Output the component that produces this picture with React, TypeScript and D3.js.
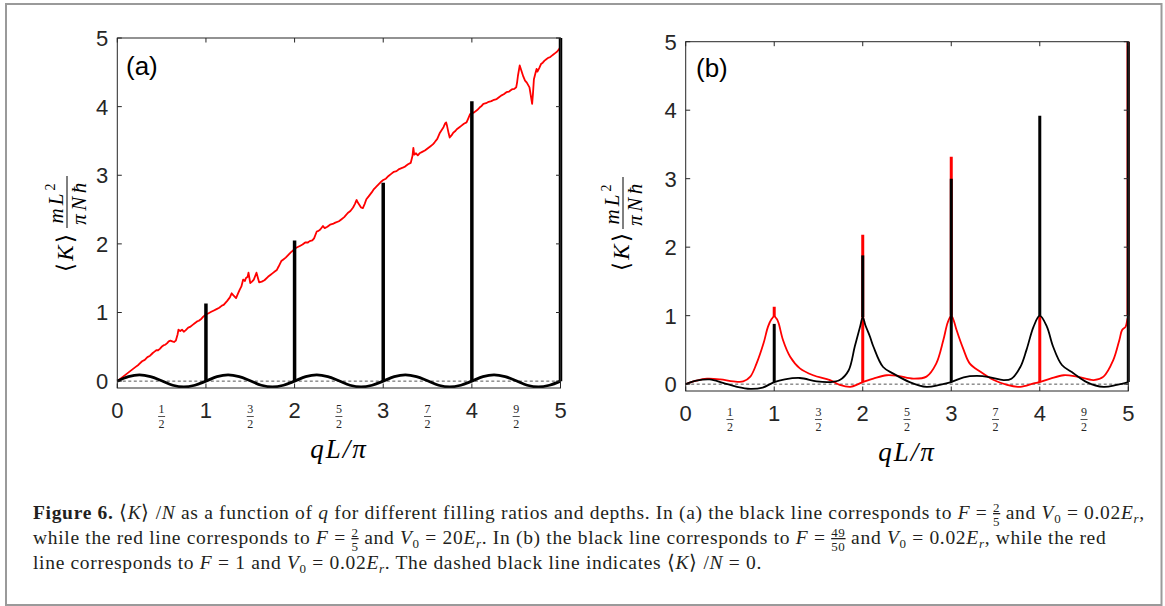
import React from 'react';
import * as d3 from 'd3';

// ---------- data ----------
const xIntTicks = [0, 1, 2, 3, 4, 5];
const yTickValues = [0, 1, 2, 3, 4, 5];
const halfTickValues = [0.5, 1.5, 2.5, 3.5, 4.5];
const halfTickNumerators = ['1', '3', '5', '7', '9'];
const halfTickDenominator = '2';

// panel (a) red: F = 2/5, V0 = 20 Er
const redA: [number, number][] = [
  [0, 0], [0.04, 0.04], [0.08, 0.08], [0.12, 0.12], [0.16, 0.16], [0.2, 0.2], [0.24, 0.24], [0.28, 0.29],
  [0.31, 0.31], [0.34, 0.35], [0.37, 0.37], [0.4, 0.41], [0.42, 0.43], [0.44, 0.45], [0.46, 0.45],
  [0.48, 0.47], [0.5, 0.5], [0.52, 0.52], [0.54, 0.53], [0.56, 0.55], [0.58, 0.58], [0.6, 0.59],
  [0.62, 0.58], [0.64, 0.57], [0.66, 0.59], [0.68, 0.68], [0.69, 0.75], [0.71, 0.73], [0.73, 0.75],
  [0.75, 0.72], [0.77, 0.74], [0.8, 0.78], [0.82, 0.79], [0.85, 0.82], [0.87, 0.84], [0.9, 0.87],
  [0.92, 0.88], [0.95, 0.91], [0.97, 0.94], [1.0, 0.97], [1.03, 0.99], [1.06, 1.01], [1.09, 1.03],
  [1.12, 1.05], [1.15, 1.07], [1.18, 1.1], [1.2, 1.11], [1.22, 1.14], [1.24, 1.17], [1.27, 1.22],
  [1.29, 1.28], [1.31, 1.25], [1.34, 1.21], [1.36, 1.27], [1.38, 1.33], [1.4, 1.38], [1.42, 1.48],
  [1.44, 1.46], [1.45, 1.5], [1.47, 1.52], [1.48, 1.58], [1.5, 1.43], [1.52, 1.45], [1.54, 1.48],
  [1.57, 1.58], [1.6, 1.44], [1.63, 1.45], [1.66, 1.47], [1.7, 1.52], [1.73, 1.55], [1.75, 1.57],
  [1.78, 1.6], [1.8, 1.62], [1.82, 1.67], [1.85, 1.75], [1.87, 1.77], [1.9, 1.8], [1.93, 1.84],
  [1.96, 1.88], [1.98, 1.9], [2.0, 1.93], [2.03, 1.95], [2.06, 1.97], [2.09, 1.99], [2.12, 2.02],
  [2.15, 2.02], [2.17, 2.04], [2.2, 2.05], [2.22, 2.08], [2.25, 2.18], [2.27, 2.19], [2.29, 2.21],
  [2.32, 2.26], [2.34, 2.23], [2.37, 2.25], [2.4, 2.28], [2.43, 2.29], [2.46, 2.31], [2.5, 2.33],
  [2.53, 2.36], [2.56, 2.39], [2.6, 2.45], [2.63, 2.48], [2.66, 2.53], [2.68, 2.58], [2.7, 2.64],
  [2.71, 2.61], [2.73, 2.57], [2.75, 2.53], [2.77, 2.52], [2.79, 2.58], [2.81, 2.65], [2.84, 2.7],
  [2.87, 2.75], [2.89, 2.79], [2.92, 2.83], [2.95, 2.87], [2.98, 2.91], [3.0, 2.93], [3.03, 2.95],
  [3.06, 2.99], [3.09, 3.02], [3.12, 3.05], [3.15, 3.06], [3.18, 3.09], [3.22, 3.11], [3.25, 3.13],
  [3.28, 3.16], [3.31, 3.18], [3.33, 3.28], [3.34, 3.4], [3.35, 3.3], [3.37, 3.32], [3.39, 3.29],
  [3.41, 3.32], [3.44, 3.34], [3.47, 3.36], [3.5, 3.39], [3.53, 3.42], [3.56, 3.45], [3.58, 3.48],
  [3.61, 3.53], [3.64, 3.62], [3.66, 3.66], [3.68, 3.7], [3.7, 3.76], [3.71, 3.77], [3.72, 3.72],
  [3.74, 3.6], [3.75, 3.55], [3.77, 3.58], [3.79, 3.62], [3.81, 3.64], [3.83, 3.67], [3.86, 3.7],
  [3.88, 3.72], [3.91, 3.75], [3.94, 3.77], [3.96, 3.83], [3.98, 3.89], [4.0, 3.9], [4.03, 3.92],
  [4.06, 3.95], [4.09, 3.99], [4.11, 4.01], [4.13, 4.04], [4.16, 4.05], [4.19, 4.07], [4.22, 4.08],
  [4.25, 4.1], [4.28, 4.11], [4.31, 4.14], [4.33, 4.16], [4.36, 4.18], [4.39, 4.21], [4.42, 4.22],
  [4.45, 4.25], [4.48, 4.26], [4.5, 4.28], [4.51, 4.35], [4.52, 4.45], [4.54, 4.6], [4.56, 4.52],
  [4.58, 4.44], [4.6, 4.38], [4.62, 4.35], [4.65, 4.28], [4.67, 4.12], [4.68, 4.04], [4.69, 4.2],
  [4.7, 4.4], [4.71, 4.45], [4.72, 4.5], [4.73, 4.55], [4.74, 4.51], [4.76, 4.56], [4.78, 4.62],
  [4.8, 4.64], [4.82, 4.67], [4.84, 4.69], [4.86, 4.71], [4.88, 4.72], [4.9, 4.74], [4.92, 4.76],
  [4.94, 4.78], [4.96, 4.8], [4.98, 4.83], [4.995, 4.86], [5.0, 5.0],
];

// panel (a) black: F = 2/5, V0 = 0.02 Er
const blackA: [number, number][] = [
  [0, 0], [0.125, 0.065], [0.25, 0.09], [0.375, 0.065], [0.5, 0.005], [0.625, -0.06], [0.75, -0.085], [0.875, -0.06],
  [1, 0], [1.125, 0.065], [1.25, 0.09], [1.375, 0.065], [1.5, 0.005], [1.625, -0.06], [1.75, -0.085], [1.875, -0.06],
  [2, 0], [2.125, 0.065], [2.25, 0.09], [2.375, 0.065], [2.5, 0.005], [2.625, -0.06], [2.75, -0.085], [2.875, -0.06],
  [3, 0], [3.125, 0.065], [3.25, 0.09], [3.375, 0.065], [3.5, 0.005], [3.625, -0.06], [3.75, -0.085], [3.875, -0.06],
  [4, 0], [4.125, 0.065], [4.25, 0.09], [4.375, 0.065], [4.5, 0.005], [4.625, -0.06], [4.75, -0.085], [4.875, -0.06],
  [5, 0],
];
const blackSpikesA = [
  { x: 1, y0: 0, y1: 1.13 }, { x: 2, y0: 0, y1: 2.05 }, { x: 3, y0: 0, y1: 2.89 },
  { x: 4, y0: 0, y1: 4.08 }, { x: 5, y0: 0, y1: 5.0 },
];

// panel (b) red: F = 1, V0 = 0.02 Er
const redB: [number, number][] = [
  [0, 0], [0.12, 0.05], [0.24, 0.08], [0.39, 0.07], [0.54, 0.04], [0.65, 0.04], [0.73, 0.11], [0.8, 0.3],
  [0.88, 0.6], [0.93, 0.84], [0.97, 0.95], [1.0, 0.99], [1.03, 0.95], [1.05, 0.89], [1.1, 0.64],
  [1.18, 0.4], [1.29, 0.23], [1.44, 0.13], [1.63, 0.06], [1.74, -0.01], [1.86, -0.04], [1.95, 0.0],
  [2.0, 0.03], [2.12, 0.08], [2.27, 0.13], [2.4, 0.12], [2.57, 0.08], [2.72, 0.11], [2.83, 0.3],
  [2.91, 0.64], [2.96, 0.9], [3.0, 1.0], [3.03, 0.92], [3.06, 0.79], [3.14, 0.5], [3.21, 0.3],
  [3.33, 0.18], [3.48, 0.06], [3.63, -0.01], [3.78, -0.04], [3.93, 0.01], [4.0, 0.03], [4.12, 0.08],
  [4.27, 0.13], [4.42, 0.11], [4.61, 0.06], [4.72, 0.11], [4.83, 0.35], [4.9, 0.65], [4.93, 0.79],
  [4.97, 0.84], [4.99, 0.95], [5.0, 1.0],
];
const redSpikesB = [
  { x: 1, y0: 0.98, y1: 1.13 }, { x: 2, y0: 0.03, y1: 2.18 }, { x: 3, y0: 1.0, y1: 3.32 },
  { x: 4, y0: 0.03, y1: 1.0 }, { x: 4.997, y0: 1.0, y1: 5.1 },
];

// panel (b) black: F = 49/50, V0 = 0.02 Er
const blackB: [number, number][] = [
  [0, 0], [0.12, 0.05], [0.27, 0.07], [0.42, 0.02], [0.58, -0.04], [0.73, -0.07], [0.87, -0.05], [1.0, 0.03],
  [1.12, 0.07], [1.29, 0.09], [1.48, 0.04], [1.63, 0.03], [1.74, 0.06], [1.84, 0.2], [1.91, 0.55],
  [1.97, 0.84], [2.0, 0.98], [2.03, 0.86], [2.08, 0.7], [2.12, 0.55], [2.23, 0.25], [2.35, 0.15],
  [2.53, 0.03], [2.72, -0.04], [2.87, -0.01], [3.0, 0.03], [3.14, 0.1], [3.29, 0.12], [3.44, 0.1],
  [3.59, 0.06], [3.68, 0.08], [3.78, 0.25], [3.85, 0.5], [3.93, 0.84], [4.0, 1.0], [4.08, 0.84],
  [4.15, 0.55], [4.25, 0.28], [4.38, 0.16], [4.53, 0.03], [4.72, -0.04], [4.87, -0.01], [5.0, 0.03],
];
const blackSpikesB = [
  { x: 1, y0: 0.03, y1: 0.88 }, { x: 2, y0: 0.98, y1: 1.88 }, { x: 3, y0: 0.03, y1: 3.0 },
  { x: 4, y0: 1.0, y1: 3.92 }, { x: 5, y0: 0.03, y1: 5.1 },
];

const panelLetters = ['(a)', '(b)'];

// ---------- style ----------
const AX = '#262626';
const SANS = 'Liberation Sans, Arial, Helvetica, sans-serif';
const SERIF = 'Liberation Serif, Times New Roman, serif';
const CAP_SIZE = 19.5;
const CAP_LS = 0.68;

type Spike = { x: number; y0: number; y1: number };

type PanelProps = {
  id: string;
  left: number; right: number; top: number; bottom: number;
  red: [number, number][]; black: [number, number][];
  redSpikes: Spike[]; blackSpikes: Spike[];
  redCurve: any; blackCurve: any;
  redW: number; blackW: number; spikeW: number;
  letter: string; letterX: number; letterY: number;
  barX: number; fracCY: number; kCY: number;
};

function Panel(p: PanelProps) {
  const x = d3.scaleLinear().domain([0, 5]).range([p.left, p.right]);
  const y = d3.scaleLinear().domain([-0.1, 5]).range([p.bottom, p.top]);
  const lineGen = (curve: any) => d3.line<[number, number]>().x(d => x(d[0])).y(d => y(d[1])).curve(curve);
  const cx = (p.left + p.right) / 2;
  return (
    <g>
      <defs>
        <clipPath id={`clip-${p.id}`}>
          <rect x={p.left - 6} y={p.top} width={p.right - p.left + 12} height={p.bottom - p.top} />
        </clipPath>
      </defs>
      {/* dashed zero line */}
      <line x1={p.left} x2={p.right} y1={y(0)} y2={y(0)} stroke="#555" strokeWidth={1} strokeDasharray="3,2.5" />
      <g clipPath={`url(#clip-${p.id})`}>
        <path d={lineGen(p.redCurve)(p.red) || ''} fill="none" stroke="#ff0000" strokeWidth={p.redW} strokeLinejoin="round" />
        {p.redSpikes.map((s, i) => (
          <line key={'rs' + i} x1={x(s.x)} x2={x(s.x)} y1={y(s.y0)} y2={y(s.y1)} stroke="#ff0000" strokeWidth={p.spikeW} />
        ))}
        <path d={lineGen(p.blackCurve)(p.black) || ''} fill="none" stroke="#000" strokeWidth={p.blackW} strokeLinejoin="round" />
        {p.blackSpikes.map((s, i) => (
          <line key={'bs' + i} x1={x(s.x)} x2={x(s.x)} y1={y(s.y0)} y2={y(s.y1)} stroke="#000" strokeWidth={p.spikeW} />
        ))}
      </g>
      {/* box */}
      <rect x={p.left} y={p.top} width={p.right - p.left} height={p.bottom - p.top} fill="none" stroke={AX} strokeWidth={1} />
      {/* ticks */}
      {xIntTicks.map(t => (
        <g key={'xt' + t}>
          <line x1={x(t)} x2={x(t)} y1={p.bottom} y2={p.bottom - 4.5} stroke={AX} strokeWidth={1} />
          <line x1={x(t)} x2={x(t)} y1={p.top} y2={p.top + 4.5} stroke={AX} strokeWidth={1} />
          <text x={x(t)} y={p.bottom + 30} textAnchor="middle" fontFamily={SANS} fontSize={22} fill={AX}>{t}</text>
        </g>
      ))}
      {halfTickValues.map((t, i) => (
        <g key={'ht' + t}>
          <text x={x(t)} y={p.bottom + 25} textAnchor="middle" fontFamily={SERIF} fontSize={12} fill={AX}>{halfTickNumerators[i]}</text>
          <line x1={x(t) - 3.5} x2={x(t) + 3.5} y1={p.bottom + 28.5} y2={p.bottom + 28.5} stroke={AX} strokeWidth={0.8} />
          <text x={x(t)} y={p.bottom + 39.5} textAnchor="middle" fontFamily={SERIF} fontSize={12} fill={AX}>{halfTickDenominator}</text>
        </g>
      ))}
      {yTickValues.map(t => (
        <g key={'yt' + t}>
          <line x1={p.left} x2={p.left + 4.5} y1={y(t)} y2={y(t)} stroke={AX} strokeWidth={1} />
          <line x1={p.right} x2={p.right - 4.5} y1={y(t)} y2={y(t)} stroke={AX} strokeWidth={1} />
          <text x={p.left - 9} y={y(t)} dy="0.36em" textAnchor="end" fontFamily={SANS} fontSize={22} fill={AX}>{t}</text>
        </g>
      ))}
      {/* panel letter */}
      <text x={p.letterX} y={p.letterY} fontFamily={SANS} fontSize={26} fill="#000">{p.letter}</text>
      {/* x label */}
      <text x={cx} y={p.bottom + 70} textAnchor="middle" fontFamily={SERIF} fontStyle="italic" fontSize={27} letterSpacing={2} fill="#000">qL/π</text>
      {/* y label */}
      <text transform={`translate(${p.barX + 6},${p.kCY}) rotate(-90)`} textAnchor="middle" fontFamily={SERIF} fontSize={23} letterSpacing={2} fill="#000">
        ⟨<tspan fontStyle="italic">K</tspan>⟩
      </text>
      <text transform={`translate(${p.barX - 4},${p.fracCY}) rotate(-90)`} textAnchor="middle" fontFamily={SERIF} fontStyle="italic" fontSize={21} letterSpacing={3} fill="#000">
        mL<tspan fontSize={14} dy={-8} fontStyle="normal">2</tspan>
      </text>
      <line x1={p.barX} x2={p.barX} y1={p.fracCY - 26} y2={p.fracCY + 26} stroke="#000" strokeWidth={1} />
      <text transform={`translate(${p.barX + 19},${p.fracCY}) rotate(-90)`} textAnchor="middle" fontFamily={SERIF} fontStyle="italic" fontSize={21} letterSpacing={3.5} fill="#000">
        πNħ
      </text>
    </g>
  );
}

// ---------- caption ----------
type Seg = { t: string; i?: boolean; b?: boolean; sub?: string; subI?: boolean; frac?: [string, string] };

const captionLine1: Seg[] = [
  { t: 'Figure 6.', b: true }, { t: ' ⟨' }, { t: 'K', i: true }, { t: '⟩ /' }, { t: 'N', i: true },
  { t: ' as a function of ' }, { t: 'q', i: true },
  { t: ' for different filling ratios and depths. In (a) the black line corresponds to ' },
  { t: 'F', i: true }, { t: ' = ' }, { t: '', frac: ['2', '5'] }, { t: ' and ' },
  { t: 'V', i: true, sub: '0' }, { t: ' = 0.02' }, { t: 'E', i: true, sub: 'r', subI: true }, { t: ',' },
];
const captionLine2: Seg[] = [
  { t: 'while the red line corresponds to ' }, { t: 'F', i: true }, { t: ' = ' }, { t: '', frac: ['2', '5'] },
  { t: ' and ' }, { t: 'V', i: true, sub: '0' }, { t: ' = 20' }, { t: 'E', i: true, sub: 'r', subI: true },
  { t: '. In (b) the black line corresponds to ' }, { t: 'F', i: true }, { t: ' = ' }, { t: '', frac: ['49', '50'] },
  { t: ' and ' }, { t: 'V', i: true, sub: '0' }, { t: ' = 0.02' }, { t: 'E', i: true, sub: 'r', subI: true },
  { t: ', while the red' },
];
const captionLine3: Seg[] = [
  { t: 'line corresponds to ' }, { t: 'F', i: true }, { t: ' = 1 and ' }, { t: 'V', i: true, sub: '0' },
  { t: ' = 0.02' }, { t: 'E', i: true, sub: 'r', subI: true }, { t: '. The dashed black line indicates ⟨' },
  { t: 'K', i: true }, { t: '⟩ /' }, { t: 'N', i: true }, { t: ' = 0.' },
];

function renderSegs(segs: Seg[]) {
  const out: React.ReactNode[] = [];
  let pending = 0;
  segs.forEach((s, k) => {
    if (s.frac) {
      const n = s.frac[0].length;
      const w = 6.5 * n + CAP_LS * n;
      out.push(<tspan key={k + 'n'} fontSize={13} dy={pending - 7} textDecoration="underline">{s.frac[0]}</tspan>);
      out.push(<tspan key={k + 'd'} fontSize={13} dx={-w} dy={13.5}>{s.frac[1]}</tspan>);
      pending = -6.5;
      return;
    }
    out.push(
      <tspan key={k} dy={pending} fontStyle={s.i ? 'italic' : 'normal'} fontWeight={s.b ? 'bold' : 'normal'}>{s.t}</tspan>
    );
    pending = 0;
    if (s.sub) {
      out.push(<tspan key={k + 's'} fontSize={13} dy={4} fontStyle={s.subI ? 'italic' : 'normal'}>{s.sub}</tspan>);
      pending = -4;
    }
  });
  return out;
}

export default function App() {
  const captionLines = [captionLine1, captionLine2, captionLine3];
  return (
    <svg width={1165} height={606} style={{ position: 'absolute', left: 0, top: 0, display: 'block' }} xmlns="http://www.w3.org/2000/svg">
      <rect x={0} y={0} width={1165} height={606} fill="#fff" />
      <rect x={6} y={4} width={1155.5} height={601} fill="none" stroke="#9a9a9a" strokeWidth={2} />
      <Panel id="a" left={117.3} right={560.5} top={38} bottom={388}
        red={redA} black={blackA} redSpikes={[]} blackSpikes={blackSpikesA}
        redCurve={d3.curveLinear} blackCurve={d3.curveCatmullRom}
        redW={1.8} blackW={2.8} spikeW={3.5}
        letter={panelLetters[0]} letterX={126} letterY={75}
        barX={67} fracCY={202} kCY={252} />
      <Panel id="b" left={685.7} right={1128.3} top={41.7} bottom={391}
        red={redB} black={blackB} redSpikes={redSpikesB} blackSpikes={blackSpikesB}
        redCurve={d3.curveCatmullRom} blackCurve={d3.curveCatmullRom}
        redW={1.8} blackW={1.8} spikeW={3}
        letter={panelLetters[1]} letterX={696} letterY={77}
        barX={623} fracCY={203} kCY={251} />
      {captionLines.map((segs, i) => (
        <text key={i} x={33} y={519 + i * 25} fontFamily={SERIF} fontSize={CAP_SIZE} letterSpacing={CAP_LS} fill="#231f20">
          {renderSegs(segs)}
        </text>
      ))}
    </svg>
  );
}
